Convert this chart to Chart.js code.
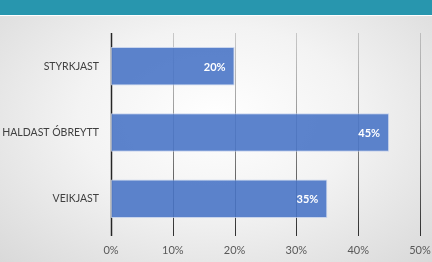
<!DOCTYPE html>
<html>
<head>
<meta charset="utf-8">
<script src="https://cdn.jsdelivr.net/npm/chart.js@4/dist/chart.umd.min.js"></script>
<style>
    html, body { margin: 0; padding: 0; }
    body {
        width: 432px; height: 262px; overflow: hidden; position: relative;
        background: radial-gradient(ellipse at 50% 45%, #ffffff 0%, #f3f3f3 45%, #d9d9d9 100%);
    }
    #header { position: absolute; left: 0; top: 0; width: 432px; height: 15px; background: #2896ae; border-bottom: 1px solid #ffffff; }
    #wrap { position: absolute; left: 0; top: 0; width: 432px; height: 262px; }
</style>
</head>
<body>
<div id="header"></div>
<div id="wrap"><canvas id="chart" width="432" height="262"></canvas></div>
<script>
// chart data
const categories = ['STYRKJAST', 'HALDAST ÓBREYTT', 'VEIKJAST'];
const shares = [20, 45, 35];
const axisMax = 50;
const axisStep = 10;

// vertical grid lines with a fade towards the top, plus tick marks
const gridPlugin = {
    id: 'fadeGrid',
    beforeDatasetsDraw(chart) {
        const ctx = chart.ctx;
        const area = chart.chartArea;
        const x = chart.scales.x;
        const grad = ctx.createLinearGradient(0, area.top, 0, area.bottom);
        grad.addColorStop(0, 'rgba(120,120,120,0.35)');
        grad.addColorStop(1, 'rgba(40,40,40,0.95)');
        ctx.save();
        x.ticks.forEach(t => {
            const px = Math.round(x.getPixelForValue(t.value)) + 0.5;
            ctx.strokeStyle = t.value === 0 ? '#262626' : grad;
            ctx.lineWidth = t.value === 0 ? 1.5 : 1;
            ctx.beginPath();
            ctx.moveTo(px, area.top);
            ctx.lineTo(px, area.bottom + 4);
            ctx.stroke();
        });
        ctx.restore();
    }
};

// white value labels inside the bar end
const labelPlugin = {
    id: 'barLabels',
    afterDatasetsDraw(chart) {
        const ctx = chart.ctx;
        const meta = chart.getDatasetMeta(0);
        ctx.save();
        ctx.fillStyle = '#ffffff';
        ctx.font = 'bold 11px Lato, "Open Sans", sans-serif';
        ctx.textAlign = 'right';
        ctx.textBaseline = 'middle';
        meta.data.forEach((bar, i) => {
            ctx.fillText(shares[i] + '%', bar.x - 9, bar.y + 1);
        });
        ctx.restore();
    }
};

new Chart(document.getElementById('chart').getContext('2d'), {
    type: 'bar',
    data: {
        labels: categories,
        datasets: [{
            data: shares,
            backgroundColor: 'rgba(74,118,198,0.9)',
            borderColor: 'rgba(190,205,235,0.8)',
            borderWidth: 1,
            borderSkipped: false,
            categoryPercentage: 1,
            barPercentage: 0.58
        }]
    },
    options: {
        indexAxis: 'y',
        responsive: false,
        animation: false,
        events: [],
        layout: { padding: { top: 33, right: 4, left: 0, bottom: 0 } },
        plugins: { legend: { display: false }, tooltip: { enabled: false } },
        scales: {
            x: {
                min: 0,
                max: axisMax,
                ticks: {
                    stepSize: axisStep,
                    padding: 12,
                    color: '#595959',
                    font: { family: 'Lato, "Open Sans", sans-serif', size: 11 },
                    callback: v => v + '%'
                },
                grid: { display: false, drawTicks: false },
                border: { display: false },
                afterFit(scale) { scale.height = 30; scale.paddingRight = 12; }
            },
            y: {
                ticks: {
                    padding: 12,
                    color: '#404040',
                    font: { family: 'Lato, "Open Sans", sans-serif', size: 10.5 }
                },
                grid: { display: false, drawTicks: false },
                border: { display: false },
                afterFit(scale) { scale.width = 111; }
            }
        }
    },
    plugins: [gridPlugin, labelPlugin]
});
</script>
</body>
</html>
